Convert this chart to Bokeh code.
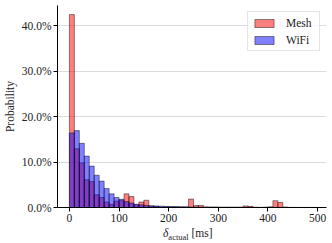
from bokeh.plotting import figure
from bokeh.layouts import column
from bokeh.models import (Range1d, FixedTicker, NumeralTickFormatter, Div,
                          Legend, LegendItem, ColumnDataSource)
from bokeh.embed import file_html
from bokeh.resources import INLINE

# ---- data (percent per 10 ms bin) ----
bin_width = 10
bin_left = list(range(0, 500, 10))
mesh = [42.4, 12.9, 9.8, 6.1, 5.7, 2.8, 2.2, 1.2, 0.7, 1.4,
        1.6, 3.0, 2.4, 0.6, 1.2, 1.6, 0.3, 0.2, 0.1, 0.1,
        0.1, 0.1, 0.1, 0.1, 1.85, 0.45, 0.45, 0.1, 0.05, 0.05,
        0.05, 0.05, 0.05, 0.05, 0.05, 0.35, 0.25, 0.05, 0.0, 0.05,
        0.15, 1.5, 1.1, 0.1, 0.0, 0.0, 0.0, 0.0, 0.0, 0.0]
wifi = [16.4, 16.9, 14.1, 11.3, 9.1, 7.1, 5.8, 4.2, 3.0, 2.2,
        1.8, 1.3, 1.0, 0.7, 0.6, 0.45, 0.4, 0.35, 0.3, 0.25,
        0.2, 0.2, 0.15, 0.15, 0.1, 0.1, 0.1, 0.1, 0.1, 0.1,
        0.05, 0.05, 0.05, 0.05, 0.05, 0.03, 0.03, 0.03, 0.03, 0.03,
        0.03, 0.03, 0.03, 0.03, 0.03, 0.02, 0.02, 0.02, 0.02, 0.02]
x_ticks = [0, 100, 200, 300, 400, 500]
y_ticks = [0.0, 0.1, 0.2, 0.3, 0.4]
series_names = ["Mesh", "WiFi"]

FONT = "Liberation Serif"
TXT = "#222222"

src = ColumnDataSource(dict(
    left=bin_left,
    right=[b + bin_width for b in bin_left],
    mesh=[v / 100 for v in mesh],
    wifi=[v / 100 for v in wifi],
))

p = figure(width=332, height=227, output_backend="svg", toolbar_location=None,
           x_range=Range1d(-24, 518), y_range=Range1d(0, 0.444),
           min_border_left=55, min_border_right=6, min_border_top=5,
           min_border_bottom=20)
p.outline_line_color = None
p.background_fill_color = "white"

r_mesh = p.quad(left="left", right="right", bottom=0, top="mesh", source=src,
                fill_color="#ff0000", fill_alpha=0.5,
                line_color="black", line_alpha=0.55, line_width=0.8)
r_wifi = p.quad(left="left", right="right", bottom=0, top="wifi", source=src,
                fill_color="#0000ff", fill_alpha=0.5,
                line_color="black", line_alpha=0.55, line_width=0.8)

# axes
for ax in (p.xaxis[0], p.yaxis[0]):
    ax.axis_line_color = "black"
    ax.axis_line_width = 1
    ax.major_tick_line_color = "black"
    ax.major_tick_out = 4
    ax.major_tick_in = 0
    ax.minor_tick_line_color = None
    ax.major_label_text_font = FONT
    ax.major_label_text_font_size = "11.5px"
    ax.major_label_text_color = TXT
    ax.major_label_standoff = 2

p.xaxis.ticker = FixedTicker(ticks=x_ticks)
p.yaxis.ticker = FixedTicker(ticks=y_ticks)
p.yaxis.formatter = NumeralTickFormatter(format="0.0%")

p.yaxis.axis_label = "Probability"
p.yaxis.axis_label_text_font = FONT
p.yaxis.axis_label_text_font_size = "11.5px"
p.yaxis.axis_label_text_font_style = "normal"
p.yaxis.axis_label_text_color = TXT
p.yaxis.axis_label_standoff = 3

p.xgrid.grid_line_color = None
p.ygrid.grid_line_color = "#dcdcdc"
p.ygrid.grid_line_width = 1

legend = Legend(items=[LegendItem(label=series_names[0], renderers=[r_mesh]),
                       LegendItem(label=series_names[1], renderers=[r_wifi])],
                location="top_right")
legend.margin = 6
legend.padding = 4
legend.spacing = 4
legend.glyph_width = 24
legend.glyph_height = 10
legend.label_width = 29
legend.label_height = 13
legend.label_standoff = 10
legend.label_text_font = FONT
legend.label_text_font_size = "11.5px"
legend.label_text_color = TXT
legend.border_line_color = "#cccccc"
legend.border_line_width = 1
legend.background_fill_alpha = 0.8
p.add_layout(legend)

xlabel = Div(
    text=('<span style="font-family:\'Liberation Serif\';font-size:11.5px;'
          'color:#222222;white-space:nowrap;">'
          '<i>δ</i><span style="font-size:8.5px;position:relative;top:2.5px;">actual</span>'
          '&nbsp;[ms]</span>'),
    width=332, height=16, margin=(0, 0, 0, 0),
    styles={"padding-left": "163px", "line-height": "12px", "padding-top": "0px"},
)

layout = column(p, xlabel, spacing=0)
open("out.html", "w").write(file_html(layout, INLINE))
